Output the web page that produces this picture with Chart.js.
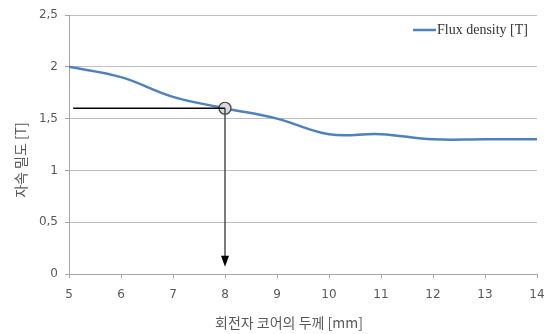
<!DOCTYPE html>
<html>
<head>
<meta charset="utf-8">
<script src="https://cdn.jsdelivr.net/npm/chart.js@4"></script>
<style>
  html, body { margin: 0; padding: 0; background: #fff; }
  #wrap { width: 552px; height: 334px; }
</style>
</head>
<body>
<div id="wrap"><canvas id="fluxChart"></canvas></div>
<script>
// Data
var thickness = [5, 6, 7, 8, 9, 10, 11, 12, 13, 14];
var fluxDensity = [2.0, 1.9, 1.71, 1.6, 1.5, 1.35, 1.35, 1.3, 1.3, 1.3];
var yTicks = [0, 0.5, 1, 1.5, 2, 2.5];
var xTicks = [5, 6, 7, 8, 9, 10, 11, 12, 13, 14];

// Marked operating point and the guide lines
var markX = 8;
var markY = 1.6;
var guideStartX = 5.08;
var arrowEndY = 0.07;

var seriesLabel = 'Flux density [T]';
var xTitle = '회전자 코어의 두께 [mm]';
var yTitle = '자속 밀도 [T]';

var blue = '#4f81bd';
var tickColor = '#595959';

/**
 * Guide lines, arrow, legend and axis titles.
 */
var overlayPlugin = {
    id: 'overlay',
    afterDatasetsDraw: function(chart) {
        var ctx = chart.ctx;
        var xs = chart.scales.x;
        var ys = chart.scales.y;
        var px = xs.getPixelForValue(markX);
        var py = ys.getPixelForValue(markY);

        ctx.save();
        ctx.strokeStyle = '#000';
        ctx.lineWidth = 1.6;
        ctx.beginPath();
        ctx.moveTo(xs.getPixelForValue(guideStartX), py);
        ctx.lineTo(px, py);
        ctx.stroke();

        var tip = ys.getPixelForValue(arrowEndY);
        ctx.lineWidth = 1.3;
        ctx.strokeStyle = '#333';
        ctx.beginPath();
        ctx.moveTo(px, py);
        ctx.lineTo(px, tip - 8);
        ctx.stroke();
        ctx.fillStyle = '#000';
        ctx.beginPath();
        ctx.moveTo(px - 4, tip - 11);
        ctx.lineTo(px + 4, tip - 11);
        ctx.lineTo(px, tip);
        ctx.closePath();
        ctx.fill();
        ctx.restore();
    },
    afterDraw: function(chart) {
        var ctx = chart.ctx;
        ctx.save();

        // legend
        ctx.strokeStyle = blue;
        ctx.lineWidth = 2.5;
        ctx.beginPath();
        ctx.moveTo(413, 30);
        ctx.lineTo(436, 30);
        ctx.stroke();
        ctx.fillStyle = '#333';
        ctx.font = '14px "Liberation Serif"';
        ctx.textBaseline = 'middle';
        ctx.textAlign = 'left';
        ctx.fillText(seriesLabel, 437, 30);

        // axis titles
        ctx.fillStyle = '#595959';
        ctx.font = '14px "Noto Sans CJK KR"';
        ctx.textAlign = 'center';
        ctx.fillText(xTitle, 289, 323);
        ctx.translate(21, 160);
        ctx.rotate(-Math.PI / 2);
        ctx.fillText(yTitle, 0, 0);
        ctx.restore();
    }
};

new Chart(document.getElementById('fluxChart'), {
    type: 'line',
    data: {
        datasets: [{
            label: seriesLabel,
            data: thickness.map(function(t, i) {
                return {x: t, y: fluxDensity[i]};
            }),
            borderColor: blue,
            borderWidth: 2.5,
            pointRadius: 0,
            tension: 0.4,
            fill: false,
            order: 2
        }, {
            label: 'mark',
            data: [{x: markX, y: markY}],
            showLine: false,
            pointRadius: 6,
            pointBackgroundColor: '#d9d9d9',
            pointBorderColor: '#404040',
            pointBorderWidth: 1.2,
            order: 1
        }]
    },
    options: {
        responsive: true,
        maintainAspectRatio: false,
        animation: false,
        layout: {
            padding: {left: 0, right: 15, top: 15, bottom: 0}
        },
        scales: {
            x: {
                type: 'linear',
                min: 5,
                max: 14,
                afterBuildTicks: function(scale) {
                    scale.ticks = xTicks.map(function(v) { return {value: v}; });
                },
                afterFit: function(scale) {
                    scale.height = 60;
                    scale.paddingLeft = 0;
                    scale.paddingRight = 8;
                },
                grid: {
                    display: true,
                    drawOnChartArea: false,
                    drawTicks: true,
                    tickLength: 4,
                    color: '#a6a6a6'
                },
                border: {color: '#a6a6a6', width: 1},
                ticks: {
                    color: tickColor,
                    font: {family: '"DejaVu Sans"', size: 12},
                    padding: 10,
                    maxRotation: 0
                }
            },
            y: {
                min: 0,
                max: 2.5,
                afterBuildTicks: function(scale) {
                    scale.ticks = yTicks.map(function(v) { return {value: v}; });
                },
                afterFit: function(scale) {
                    scale.width = 69;
                },
                grid: {
                    color: '#bfbfbf',
                    tickLength: 4,
                    tickColor: '#a6a6a6'
                },
                border: {color: '#a6a6a6', width: 1},
                ticks: {
                    color: tickColor,
                    font: {family: '"DejaVu Sans"', size: 12},
                    padding: 7,
                    callback: function(value) {
                        return String(value).replace('.', ',');
                    }
                }
            }
        },
        plugins: {
            legend: {display: false},
            tooltip: {enabled: false}
        }
    },
    plugins: [overlayPlugin]
});
</script>
</body>
</html>
